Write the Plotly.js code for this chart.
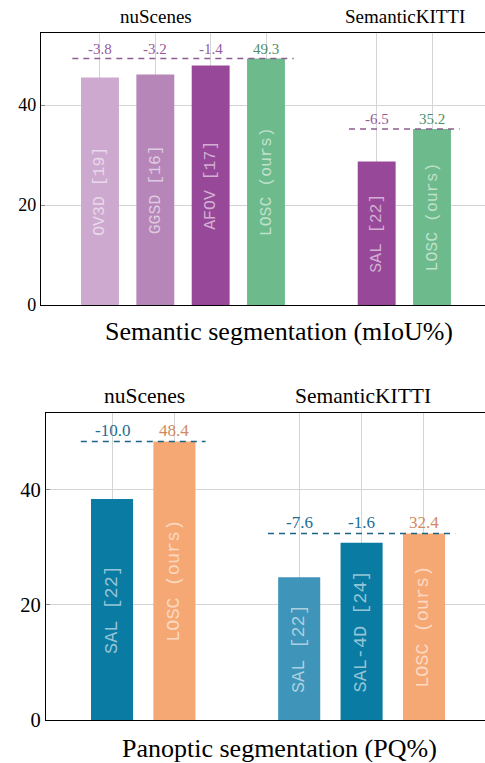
<!DOCTYPE html>
<html><head><meta charset="utf-8">
<script src="https://cdn.plot.ly/plotly-3.0.1.min.js"></script>
<style>html,body{margin:0;padding:0;overflow:hidden;background:#fff}#chart{width:500px;height:763px}</style>
</head><body><div id="chart"></div>
<script>
// ---- data ----
const semDatasets = ['nuScenes','nuScenes','nuScenes','nuScenes','SemanticKITTI','SemanticKITTI'];
const semMethods = ['OV3D [19]','GGSD [16]','AFOV [17]','LOSC (ours)','SAL [22]','LOSC (ours)'];
const semValues = [45.5, 46.1, 47.9, 49.3, 28.7, 35.2];
const panDatasets = ['nuScenes','nuScenes','SemanticKITTI','SemanticKITTI','SemanticKITTI'];
const panMethods = ['SAL [22]','LOSC (ours)','SAL [22]','SAL-4D [24]','LOSC (ours)'];
const panValues = [38.4, 48.4, 24.8, 30.8, 32.4];
const yTicks = [0, 20, 40];
const semTitle = 'Semantic segmentation (mIoU%)';
const panTitle = 'Panoptic segmentation (PQ%)';

// ---- styles ----
const semColors = ['#cda9d0','#b686b9','#984899','#6dbb8c','#984899','#6dbb8c'];
const panColors = ['#0a7ba3','#f6a874','#3e94b9','#0a7ba3','#f6a874'];
const W = 500, H = 763;
const SERIF = 'Liberation Serif';
const MONO = 'Liberation Mono';

function positions(ds){
  const p=[]; let g=0;
  ds.forEach((d,i)=>{ if(i>0 && d!==ds[i-1]) g++; p.push(i+1+g); });
  return p;
}
const px = (x)=>x/W, py = (y)=>1-y/H;

const panels = [
  {ds:semDatasets, m:semMethods, v:semValues, colors:semColors, xa:'x', ya:'y',
   xdom:[px(41),px(491)], ydom:[py(305),py(33)], xr:[-0.066,8.066], yr:[0,54.4], bw:0.685,
   tick:18, grp:19, val:15, bar:16.5, dash:'#8d5e91', delta:'#965a9b', ours:'#4e8f67',
   groupPos:{'nuScenes':[156,16],'SemanticKITTI':[405,16]}, title:semTitle, titlePos:[279,332]},
  {ds:panDatasets, m:panMethods, v:panValues, colors:panColors, xa:'x2', ya:'y2',
   xdom:[px(46),px(490)], ydom:[py(720),py(413.3)], xr:[-0.058,7.058], yr:[0,53.3], bw:0.674,
   tick:20.5, grp:21.5, val:17, bar:18.5, dash:'#1b6587', delta:'#1a6e96', ours:'#d08a5e',
   groupPos:{'nuScenes':[144,396],'SemanticKITTI':[363,396]}, title:panTitle, titlePos:[279,748.5]}
];

const traces = [], annotations = [], layout = {
  width: W, height: H, margin:{l:0,r:0,t:0,b:0}, showlegend:false,
  paper_bgcolor:'#fff', plot_bgcolor:'#fff', annotations
};

panels.forEach((P, k)=>{
  const pos = positions(P.ds);
  traces.push({type:'bar', x:pos, y:P.v, width:P.bw, xaxis:P.xa, yaxis:P.ya,
    marker:{color:P.colors, line:{width:0}},
    text:P.m, textposition:'inside', insidetextanchor:'middle', textangle:-90,
    textfont:{family:MONO, size:P.bar, color:'rgba(255,255,255,0.58)'},
    constraintext:'none', hoverinfo:'skip'});
  const groups = [...new Set(P.ds)];
  groups.forEach(g=>{
    const idx = P.ds.map((d,i)=>d===g?i:-1).filter(i=>i>=0);
    const oi = idx.find(i=>P.m[i].includes('(ours)'));
    const ours = P.v[oi];
    const xs = idx.map(i=>pos[i]);
    traces.push({type:'scatter', mode:'lines', x:[Math.min(...xs)-0.5, Math.max(...xs)+0.5], y:[ours, ours],
      xaxis:P.xa, yaxis:P.ya, line:{color:P.dash, width:1.6, dash:'6px,5px'}, hoverinfo:'skip'});
    idx.forEach(i=>{
      const isOurs = i===oi;
      annotations.push({xref:P.xa, yref:P.ya, x:pos[i], y:ours, yanchor:'bottom', yshift:0,
        showarrow:false, text: isOurs ? P.v[i].toFixed(1) : (P.v[i]-ours).toFixed(1),
        font:{family:SERIF, size:P.val, color: isOurs ? P.ours : P.delta}});
    });
    const gp = P.groupPos[g];
    annotations.push({xref:'paper', yref:'paper', x:px(gp[0]), y:py(gp[1]), xanchor:'center', yanchor:'middle',
      showarrow:false, text:g, font:{family:SERIF, size:P.grp, color:'#000'}});
  });
  annotations.push({xref:'paper', yref:'paper', x:px(P.titlePos[0]), y:py(P.titlePos[1]), xanchor:'center', yanchor:'middle',
    showarrow:false, text:P.title, font:{family:SERIF, size:26, color:'#000'}});
  const xk = k===0?'xaxis':'xaxis2', yk = k===0?'yaxis':'yaxis2';
  layout[xk] = {domain:P.xdom, range:P.xr, anchor:P.ya, tickvals:pos, showticklabels:false, ticks:'',
    showgrid:true, gridcolor:'#d4d4d4', gridwidth:1, showline:true, linecolor:'#000', linewidth:1.2, mirror:true, zeroline:false, fixedrange:true};
  layout[yk] = {domain:P.ydom, range:P.yr, anchor:P.xa, tickvals:yTicks, ticks:'inside', ticklen:4, tickcolor:'#8a8a8a',
    tickfont:{family:SERIF, size:P.tick, color:'#000'}, showgrid:true, gridcolor:'#d4d4d4', gridwidth:1,
    showline:true, linecolor:'#000', linewidth:1.2, mirror:true, zeroline:false, fixedrange:true};
});

Plotly.newPlot('chart', traces, layout, {displayModeBar:false, staticPlot:true});
</script></body></html>
